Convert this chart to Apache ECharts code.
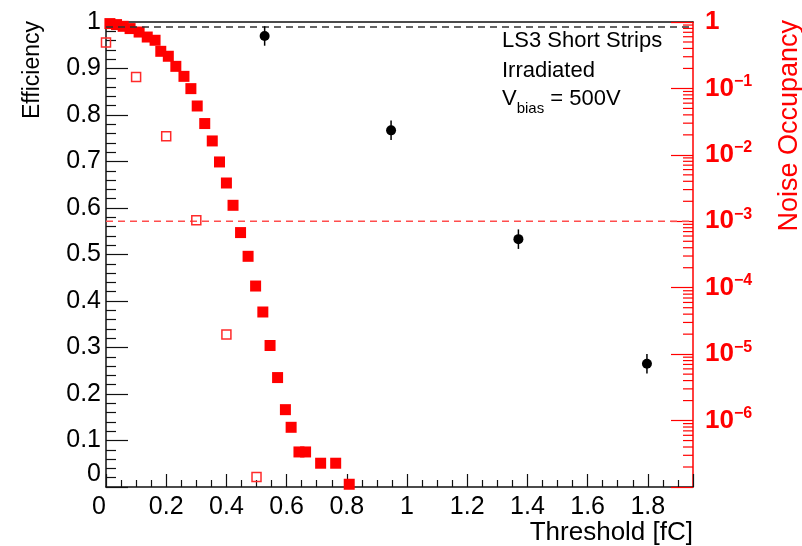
<!DOCTYPE html>
<html><head><meta charset="utf-8">
<script src="https://cdn.jsdelivr.net/npm/echarts@6/dist/echarts.min.js"></script>
<style>html,body{margin:0;padding:0;background:#fff}#c{width:802px;height:546px}</style>
</head><body><div id="c"></div>
<script>
// ---- data ----
const noiseThreshold = [0.013,0.035,0.057,0.080,0.110,0.137,0.163,0.182,0.207,0.232,0.259,0.282,0.303,0.328,0.353,0.377,0.400,0.422,0.447,0.472,0.497,0.521,0.545,0.570,0.596,0.615,0.641,0.663,0.713,0.763,0.808];
const noiseOccupancy = [0.946,0.914,0.861,0.796,0.706,0.594,0.531,0.362,0.305,0.215,0.152,0.0993,0.0544,0.0296,0.0162,0.00782,0.00377,0.00174,6.76e-4,2.97e-4,1.06e-4,4.31e-5,1.35e-5,4.44e-6,1.46e-6,7.92e-7,3.37e-7,3.37e-7,2.28e-7,2.28e-7,1.10e-7];
const noiseThreshold2 = [0.0,0.1,0.2,0.3,0.4,0.5];
const noiseOccupancy2 = [0.49,0.149,0.0191,1.04e-3,1.97e-5,1.41e-7];
const effThreshold = [0.527,0.947,1.370,1.797];
const efficiency = [0.970,0.767,0.533,0.265];
const efficiencyErr = [0.021,0.021,0.021,0.021];
const effReference = 0.99;
const noiseReference = 1e-3;
const xMin = 0, xMax = 1.95, xInterval = 0.2;
const effMin = 0, effMax = 1, effInterval = 0.1;
const noiseMin = 1e-7, noiseMax = 1;
const annotation = ['LS3 Short Strips', 'Irradiated'];
const biasLabel = {v: 'V', sub: 'bias', rest: ' = 500V'};

// log minor tick values (2..9 per decade)
const logMinor = [];
for (let d = -7; d < 0; d++) for (let k = 2; k <= 9; k++) logMinor.push(k * Math.pow(10, d));

const FONT = '"Liberation Sans", Arial, Helvetica, sans-serif';
const RED = '#ff0000';

const chart = echarts.init(document.getElementById('c'), null, {renderer: 'canvas'});
const option = {
  animation: false,
  backgroundColor: '#fff',
  textStyle: {fontFamily: FONT},
  grid: {left: 106, right: 109, top: 22, bottom: 59, containLabel: false},
  xAxis: [{
    type: 'value', min: xMin, max: xMax, interval: xInterval, position: 'bottom',
    axisLine: {show: true, onZero: false, lineStyle: {color: '#111', width: 1.5}},
    axisTick: {show: true, inside: true, length: 13, lineStyle: {color: '#111', width: 1.2}},
    minorTick: {show: true, splitNumber: 4, length: 7, lineStyle: {color: '#111', width: 1.2}},
    splitLine: {show: false},
    axisLabel: {
      fontSize: 25, color: '#000', fontFamily: FONT, margin: 8,
      formatter: v => {
        const r = v / xInterval;
        if (Math.abs(r - Math.round(r)) > 1e-6) return '';
        if (v === 0) return '{z|0}';
        return String(+v.toFixed(1));
      },
      rich: {z: {fontSize: 25, fontFamily: FONT, color: '#000', padding: [0, 14, 0, 0]}}
    }
  }, {
    type: 'value', min: xMin, max: xMax, position: 'top',
    axisLine: {show: true, onZero: false, lineStyle: {color: '#111', width: 1.5}},
    axisTick: {show: false}, axisLabel: {show: false}, splitLine: {show: false}
  }],
  yAxis: [{
    type: 'value', min: effMin, max: effMax, interval: effInterval, position: 'left',
    axisLine: {show: true, onZero: false, lineStyle: {color: '#111', width: 1.5}},
    axisTick: {show: true, inside: true, length: 22, lineStyle: {color: '#111', width: 1.2}},
    minorTick: {show: true, splitNumber: 5, length: 10, lineStyle: {color: '#111', width: 1.2}},
    splitLine: {show: false},
    axisLabel: {
      fontSize: 25, color: '#000', fontFamily: FONT, margin: 5,
      formatter: v => (v === 0 ? '{z|0}' : v === 1 ? '1' : v.toFixed(1)),
      rich: {z: {fontSize: 25, fontFamily: FONT, color: '#000', padding: [0, 0, 26, 0]}}
    }
  }, {
    type: 'log', logBase: 10, min: noiseMin, max: noiseMax, position: 'right',
    axisLine: {show: true, onZero: false, lineStyle: {color: RED, width: 1.5}},
    axisTick: {show: true, inside: true, length: 22, lineStyle: {color: RED, width: 1.2}},
    splitLine: {show: false},
    axisLabel: {
      margin: 12, fontFamily: FONT,
      formatter: v => {
        const e = Math.round(Math.log10(v));
        if (e === 0) return '{b|1}';
        if (e <= -7) return '';
        return '{b|10}{s|\u2212' + (-e) + '}';
      },
      rich: {
        b: {fontSize: 26, fontWeight: 'bold', color: RED, fontFamily: FONT, lineHeight: 30},
        s: {fontSize: 16, fontWeight: 'bold', color: RED, fontFamily: FONT, lineHeight: 16, verticalAlign: 'top'}
      }
    }
  }],
  graphic: [
    {type: 'text', x: 33, y: 21, rotation: Math.PI / 2,
     style: {text: 'Efficiency', fontSize: 23, fontFamily: FONT, fill: '#000', align: 'right', verticalAlign: 'middle'}},
    {type: 'text', x: 790, y: 20, rotation: Math.PI / 2,
     style: {text: 'Noise Occupancy', fontSize: 27, fontFamily: FONT, fill: RED, align: 'right', verticalAlign: 'middle'}},
    {type: 'text', x: 693, y: 520,
     style: {text: 'Threshold [fC]', fontSize: 26, fontFamily: FONT, fill: '#000', align: 'right', verticalAlign: 'top'}},
    {type: 'text', x: 502, y: 30,
     style: {text: annotation[0], fontSize: 22, fontFamily: FONT, fill: '#000', align: 'left', verticalAlign: 'top'}},
    {type: 'text', x: 502, y: 60,
     style: {text: annotation[1], fontSize: 22, fontFamily: FONT, fill: '#000', align: 'left', verticalAlign: 'top'}},
    {type: 'text', x: 502, y: 88,
     style: {text: '{v|' + biasLabel.v + '}{sub|' + biasLabel.sub + '}{v|' + biasLabel.rest + '}',
       align: 'left', verticalAlign: 'top', fontFamily: FONT, fill: '#000',
       rich: {
         v: {fontSize: 22, fontFamily: FONT, fill: '#000', lineHeight: 28, verticalAlign: 'top'},
         sub: {fontSize: 15, fontFamily: FONT, fill: '#000', lineHeight: 15, verticalAlign: 'bottom'}
       }}}
  ],
  series: [
    {
      name: 'Noise reference', type: 'line', xAxisIndex: 0, yAxisIndex: 1,
      data: [[xMin, noiseReference], [xMax, noiseReference]],
      showSymbol: false, symbol: 'none', silent: true, z: 1,
      lineStyle: {color: '#ff4d4d', type: [7, 5], width: 1.5}
    },
    {
      name: 'Noise occupancy', type: 'scatter', xAxisIndex: 0, yAxisIndex: 1,
      data: noiseThreshold.map((x, i) => [x, noiseOccupancy[i]]),
      symbol: 'rect', symbolSize: 11, itemStyle: {color: RED, opacity: 1},
      clip: false, z: 3
    },
    {
      name: 'Noise occupancy 2', type: 'scatter', xAxisIndex: 0, yAxisIndex: 1,
      data: noiseThreshold2.map((x, i) => [x, noiseOccupancy2[i]]),
      symbol: 'rect', symbolSize: 9, clip: false, z: 4,
      itemStyle: {color: 'rgba(0,0,0,0)', borderColor: '#ff2a2a', borderWidth: 1.5, opacity: 1}
    },
    {
      name: 'Efficiency errors', type: 'custom', xAxisIndex: 0, yAxisIndex: 0,
      data: effThreshold.map((x, i) => [x, efficiency[i], efficiencyErr[i]]),
      clip: false, z: 5, silent: true,
      renderItem: (params, api) => {
        const x = api.value(0), y = api.value(1), e = api.value(2);
        const p1 = api.coord([x, y - e]), p2 = api.coord([x, y + e]);
        return {type: 'line', shape: {x1: p1[0], y1: p1[1], x2: p2[0], y2: p2[1]},
                style: {stroke: '#000', lineWidth: 1.5}};
      }
    },
    {
      name: 'Efficiency', type: 'scatter', xAxisIndex: 0, yAxisIndex: 0,
      data: effThreshold.map((x, i) => [x, efficiency[i]]),
      symbol: 'circle', symbolSize: 10, itemStyle: {color: '#000', opacity: 1}, z: 6,
      markLine: {
        silent: true, symbol: 'none', label: {show: false},
        lineStyle: {color: '#333', type: [7, 5], width: 1.5},
        data: [{yAxis: effReference}]
      }
    },
    {
      name: 'log minor ticks', type: 'custom', xAxisIndex: 0, yAxisIndex: 1,
      data: logMinor.map(v => [xMax, v]), clip: false, silent: true, z: 2,
      renderItem: (params, api) => {
        const p = api.coord([api.value(0), api.value(1)]);
        return {type: 'line', shape: {x1: p[0] - 10, y1: p[1], x2: p[0], y2: p[1]},
                style: {stroke: RED, lineWidth: 1.2}};
      }
    }
  ]
};
chart.setOption(option);
</script>
</body></html>
